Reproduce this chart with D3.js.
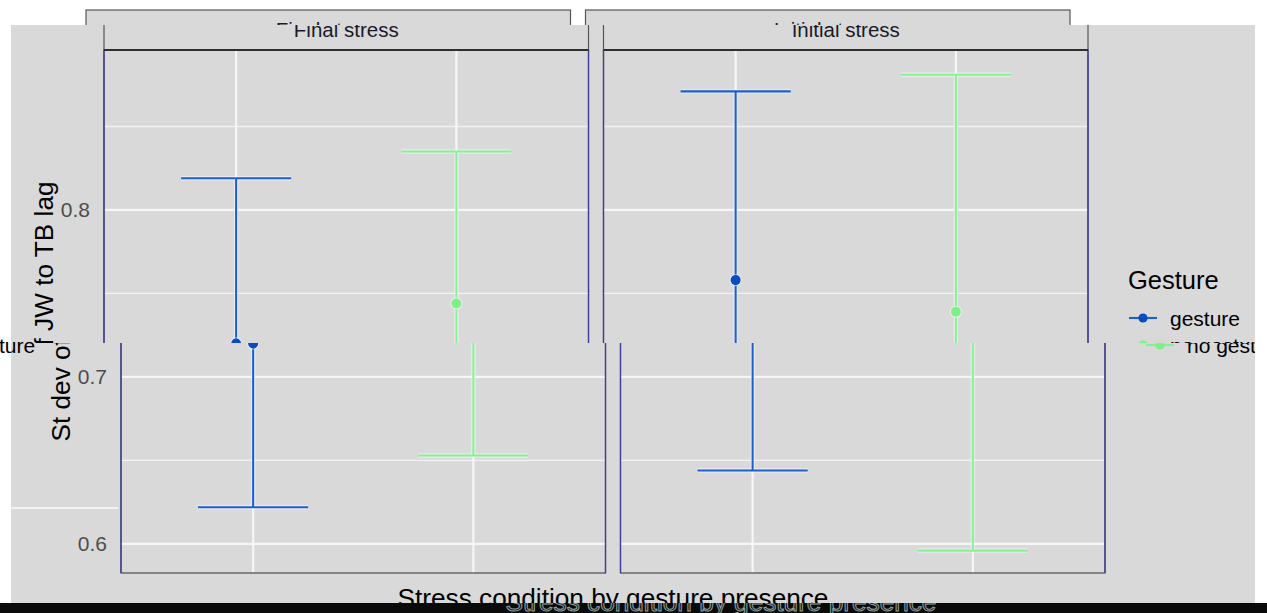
<!DOCTYPE html>
<html>
<head>
<meta charset="utf-8">
<script src="https://cdn.jsdelivr.net/npm/d3@7"></script>
<style>
  html, body { margin: 0; padding: 0; background: #ffffff; }
  svg { display: block; }
  text { font-family: "Liberation Sans", Arial, Helvetica, sans-serif; }
</style>
</head>
<body>
<svg id="chart" width="1267" height="613"></svg>
<script>
// ---- data -------------------------------------------------------------
const facets = ["Final stress", "Initial stress"];
const gestureGroups = ["gesture", "no gesture"];
// per facet: [gesture, no gesture]
const meanLag  = [[0.720, 0.744], [0.758, 0.739]];
const lowerLag = [[0.622, 0.653], [0.644, 0.596]];
const upperLag = [[0.819, 0.835], [0.871, 0.881]];
const yMajorTicks = [0.6, 0.7, 0.8];
const yMinorTicks = [0.65, 0.75, 0.85];
const yDomain = [0.5826, 0.8958];

const lineColors  = ["#1b5fd0", "#84f290"];
const pointColors = ["#0a4bc2", "#7ef08a"];

// ---- layout -----------------------------------------------------------
const W = 1267, H = 613;
const panelTop = 50, panelBottom = 573, stripTop = 10;
const bg = "#d9d9d9";
const svg = d3.select("#chart");
const defs = svg.append("defs");

const fx = d3.scaleBand().domain(facets).range([104, 1088]).paddingInner(0.03);
const y = d3.scaleLinear().domain(yDomain).range([panelBottom, panelTop]);

function clip(id, x, yy, w, h) {
  defs.append("clipPath").attr("id", id)
    .append("rect").attr("x", x).attr("y", yy).attr("width", w).attr("height", h);
  return "url(#" + id + ")";
}

// Draws the complete faceted figure into group g.
function drawChart(g) {
  facets.forEach((facet, fi) => {
    const x0 = fx(facet), x1 = x0 + fx.bandwidth();
    const x = d3.scalePoint().domain(gestureGroups).range([x0, x1]).padding(0.6);
    const capHalf = x.step() * 0.25;
    const p = g.append("g");

    p.append("rect").attr("x", x0).attr("y", panelTop)
      .attr("width", x1 - x0).attr("height", panelBottom - panelTop).attr("fill", bg);

    // grid
    p.selectAll(".gmin").data(yMinorTicks).join("line")
      .attr("x1", x0).attr("x2", x1).attr("y1", d => y(d)).attr("y2", d => y(d))
      .attr("stroke", "#f3f3f3").attr("stroke-width", 1.3);
    p.selectAll(".gmaj").data(yMajorTicks).join("line")
      .attr("x1", x0).attr("x2", x1).attr("y1", d => y(d)).attr("y2", d => y(d))
      .attr("stroke", "#f6f6f6").attr("stroke-width", 2.2);
    p.selectAll(".gx").data(gestureGroups).join("line")
      .attr("x1", d => x(d)).attr("x2", d => x(d)).attr("y1", panelTop).attr("y2", panelBottom)
      .attr("stroke", "#f6f6f6").attr("stroke-width", 2.2);

    // error bars with points
    gestureGroups.forEach((grp, gi) => {
      const cx = x(grp);
      const lo = y(lowerLag[fi][gi]), hi = y(upperLag[fi][gi]), m = y(meanLag[fi][gi]);
      const bar = p.append("g");
      const segs = [
        [cx, lo, cx, hi],
        [cx - capHalf, lo, cx + capHalf, lo],
        [cx - capHalf, hi, cx + capHalf, hi]
      ];
      // soft light fringe under the strokes
      bar.selectAll(".halo").data(segs).join("line")
        .attr("x1", d => d[0]).attr("y1", d => d[1]).attr("x2", d => d[2]).attr("y2", d => d[3])
        .attr("stroke", "#ffffff").attr("stroke-opacity", 0.45).attr("stroke-width", 4.5);
      bar.selectAll(".seg").data(segs).join("line")
        .attr("x1", d => d[0]).attr("y1", d => d[1]).attr("x2", d => d[2]).attr("y2", d => d[3])
        .attr("stroke", lineColors[gi]).attr("stroke-width", 2.1);
      bar.append("circle").attr("cx", cx).attr("cy", m).attr("r", 6.2)
        .attr("fill", "#ffffff").attr("fill-opacity", 0.45);
      bar.append("circle").attr("cx", cx).attr("cy", m).attr("r", 5)
        .attr("fill", pointColors[gi]);
    });

    // panel border
    p.append("rect").attr("x", x0).attr("y", panelTop)
      .attr("width", x1 - x0).attr("height", panelBottom - panelTop)
      .attr("fill", "none").attr("stroke", "#4a4a4a").attr("stroke-width", 1.2);
    p.selectAll(".vb").data([x0, x1]).join("line")
      .attr("x1", d => d).attr("x2", d => d).attr("y1", panelTop).attr("y2", panelBottom)
      .attr("stroke", "#3d3d9e").attr("stroke-width", 1.3);

    // strip
    p.append("rect").attr("x", x0).attr("y", stripTop)
      .attr("width", x1 - x0).attr("height", panelTop - stripTop)
      .attr("fill", bg).attr("stroke", "#555555").attr("stroke-width", 1.2);
    p.append("line").attr("x1", x0).attr("x2", x1).attr("y1", panelTop).attr("y2", panelTop)
      .attr("stroke", "#2e2e2e").attr("stroke-width", 2.2);
    p.append("text").attr("x", (x0 + x1) / 2).attr("y", 36.5)
      .attr("text-anchor", "middle").attr("font-size", 20.5).attr("fill", "#1a1a2a")
      .text(facet);
  });

  // y axis
  const yAxis = d3.axisLeft(y).tickValues(yMajorTicks).tickFormat(d3.format(".1f"))
    .tickSize(0).tickPadding(14);
  const ax = g.append("g").attr("transform", `translate(${fx(facets[0])},0)`).call(yAxis);
  ax.select(".domain").remove();
  ax.selectAll("text").attr("font-size", 21).attr("fill", "#4d4d4d")
    .style("font-family", "\"Liberation Sans\", Arial, sans-serif");

  // axis titles
  g.append("text")
    .attr("transform", `translate(53,${(panelTop + panelBottom) / 2}) rotate(-90)`)
    .attr("text-anchor", "middle").attr("font-size", 26.2).attr("fill", "#000")
    .text("St dev of JW to TB lag");
  g.append("text").attr("x", (fx.range()[0] + fx.range()[1]) / 2).attr("y", 607)
    .attr("text-anchor", "middle").attr("font-size", 26.2).attr("fill", "#000")
    .text("Stress condition by gesture presence");

  // legend
  const lg = g.append("g");
  lg.append("text").attr("x", 1128).attr("y", 288.5).attr("font-size", 25.5).attr("fill", "#000")
    .text("Gesture");
  gestureGroups.forEach((grp, gi) => {
    const ky = 318 + gi * 27;
    lg.append("line").attr("x1", 1129).attr("x2", 1157).attr("y1", ky).attr("y2", ky)
      .attr("stroke", lineColors[gi]).attr("stroke-width", 2.1);
    lg.append("circle").attr("cx", 1143).attr("cy", ky).attr("r", 4.6).attr("fill", pointColors[gi]);
    lg.append("text").attr("x", 1170).attr("y", ky + 7.5).attr("font-size", 21).attr("fill", "#000")
      .text(grp);
  });
}

// ---- bands ------------------------------------------------------------
svg.append("rect").attr("width", W).attr("height", H).attr("fill", "#ffffff");

// top band: strip boxes over a white ground
const topBand = svg.append("g").attr("clip-path", clip("cTop", 0, 0, W, 25));
drawChart(topBand.append("g").attr("transform", "translate(-18,0)"));

// middle band
const midBand = svg.append("g").attr("clip-path", clip("cMid", 0, 25, 1255, 318));
midBand.append("rect").attr("x", 11).attr("y", 25).attr("width", 1244).attr("height", 318).attr("fill", bg);
drawChart(midBand.append("g"));

// lower band
const lowBand = svg.append("g").attr("clip-path", clip("cLow", 0, 343, 1255, 260));
lowBand.append("rect").attr("x", 11).attr("y", 343).attr("width", 1244).attr("height", 260).attr("fill", bg);
drawChart(lowBand.append("g").attr("transform", "translate(17,0)"));
lowBand.append("line").attr("x1", 11).attr("x2", 118).attr("y1", 508).attr("y2", 508)
  .attr("stroke", "#f2f2f2").attr("stroke-width", 2);

// tail of the second legend label carried to the left edge
svg.append("g").attr("clip-path", clip("cWrap", 0, 338, 60, 18))
  .append("text").attr("x", -1).attr("y", 352.5).attr("font-size", 21).attr("fill", "#000")
  .text("ture");

// dark bottom strip with a faint outlined copy of the x title
const darkBand = svg.append("g").attr("clip-path", clip("cDark", 0, 603, W, 10));
darkBand.append("rect").attr("x", 0).attr("y", 603).attr("width", W).attr("height", 10).attr("fill", "#0a0a0a");
darkBand.append("text").attr("x", 721).attr("y", 611).attr("text-anchor", "middle")
  .attr("font-size", 26.2).attr("fill", "#141414").attr("stroke", "#8fa3a3").attr("stroke-width", 1)
  .text("Stress condition by gesture presence");
</script>
</body>
</html>
